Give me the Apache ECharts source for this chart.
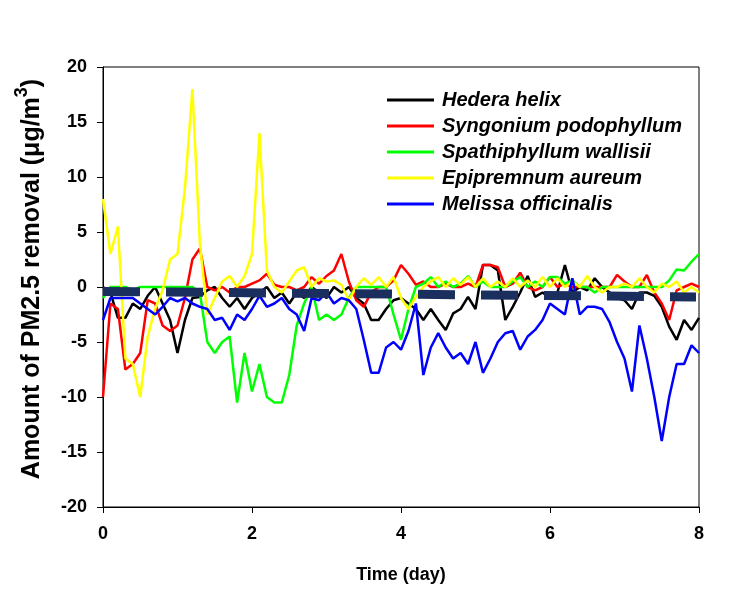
<!DOCTYPE html>
<html>
<head>
<meta charset="utf-8">
<script src="https://cdn.jsdelivr.net/npm/echarts@6/dist/echarts.min.js"></script>
<style>
html,body{margin:0;padding:0;background:#fff;}
#chart{width:736px;height:592px;}
</style>
</head>
<body>
<div id="chart"></div>
<script>
const days = [0,0.1,0.2,0.3,0.4,0.5,0.6,0.7,0.8,0.9,1,1.1,1.2,1.3,1.4,1.5,1.6,1.7,1.8,1.9,2,2.1,2.2,2.3,2.4,2.5,2.6,2.7,2.8,2.9,3,3.1,3.2,3.3,3.4,3.5,3.6,3.7,3.8,3.9,4,4.1,4.2,4.3,4.4,4.5,4.6,4.7,4.8,4.9,5,5.1,5.2,5.3,5.4,5.5,5.6,5.7,5.8,5.9,6,6.1,6.2,6.3,6.4,6.5,6.6,6.7,6.8,6.9,7,7.1,7.2,7.3,7.4,7.5,7.6,7.7,7.8,7.9,8];

const seriesNames = ['Hedera helix','Syngonium podophyllum','Spathiphyllum wallisii','Epipremnum aureum','Melissa officinalis'];
const seriesColors = ['#000000','#ff0000','#00ff00','#ffff00','#0000ff'];

const hedera = [0,-0.5,-2.8,-2.8,-1.5,-2,-0.8,0,-1.5,-3,-6,-3,-1,-0.9,-0.3,0,-1,-1.8,-1,-2,-1,-0.5,0,-1,-0.5,-1.5,-0.5,-1,0,-0.5,-1,0,-0.5,0,-1,-1.5,-3,-3,-2,-1.2,-1,-1.5,-2,-3,-2,-3,-3.9,-2.4,-2,-0.9,-2,2,2,1.5,-3,-1.8,-0.5,1,-0.9,-0.5,-1,-0.5,2,-0.5,0,-0.3,0.8,0,-0.5,-1,-1.2,-2,-0.5,-0.5,-0.8,-1.8,-3.6,-4.8,-3,-3.9,-2.8];

const syngonium = [-10,-1.5,-2,-7.5,-7,-6,-1.2,-1.5,-3.5,-4,-3.5,-1,2.5,3.5,0,-0.3,0,-0.5,0,0,0.3,0.6,1.2,0.2,0,0,-0.3,0,0.9,0.3,1,1.5,3,0.5,-1.2,-1.8,-0.5,0,0,0.6,2,1.2,0.2,0.5,0,0,0.3,0,0,0.3,0,2,2,1.8,0,0.3,1.3,0,-0.3,0,0.9,0,0.3,0,0,0,0,0,0,1.1,0.5,0,0,1.1,-0.5,-1.5,-3,-0.3,0,0.3,0];

const spathiphyllum = [-1,0,0,0,-0.3,0,0,0,0,0,0,0,0,-0.5,-5,-6,-5,-4.5,-10.5,-6,-9.5,-7,-10,-10.5,-10.5,-8,-3.5,-1.5,0,-3,-2.5,-3,-2.5,-1,0,0,0,0,0,-2.5,-4.8,-2,0,0.3,0.9,0,0.5,0,0.3,1,0,0.5,0,0,0,0.5,0.9,0,0.5,0,0.9,0.9,0.3,0.6,0,0,-0.5,0,0,0,0,0,0,0,0,0,0.6,1.6,1.5,2.3,3];

const epipremnum = [8,3,5.5,-6.5,-7,-10,-4.5,-2,-0.3,2.5,3,9,18,4,-2.5,-1,0.5,1,0,1,3,14,1.5,0,-0.5,0.5,1.5,1.8,0,0.8,0.5,0.6,0.2,-1.2,0,0.8,0.2,0.9,0,0.9,-1,-2,-0.9,0,0.5,0.9,0,0.8,0.2,0.9,0,0.8,0,0.5,0,0.8,0,0.6,0,0.9,0,0.8,0,0.5,0,1,0,-0.5,0,0,0.3,0,0.8,0,-0.5,0.3,0,0.5,-0.5,0,-0.5];

const melissa = [-3,-1,-1,-1,-1,-1.5,-2,-2.5,-1.8,-1,-1.3,-1,-1.5,-1.8,-2,-3,-2.8,-3.9,-2.5,-3,-2,-0.8,-1.8,-1.5,-1,-2,-2.5,-4,-1,-1.2,-0.5,-1.5,-1,-1.2,-2,-4.8,-7.8,-7.8,-5.5,-5,-5.7,-4,-1.5,-8,-5.5,-4.2,-5.5,-6.5,-6,-7,-5,-7.8,-6.5,-5,-4.2,-4,-5.7,-4.5,-3.9,-3,-1.5,-2,-2.5,0.8,-2.5,-1.8,-1.8,-2,-3.2,-5,-6.5,-9.5,-3.5,-6.5,-10,-14,-10,-7,-7,-5.3,-6];

const allValues = [hedera, syngonium, spathiphyllum, epipremnum, melissa];

// thick dark dashed reference line
const refDays = [0, 7.96];
const refValues = [-0.4, -0.9];

const xMin = 0, xMax = 8, xInterval = 2;
const yMin = -20, yMax = 20, yInterval = 5;

const FONT = 'Liberation Sans, Arial, sans-serif';

const chart = echarts.init(document.getElementById('chart'), null, {renderer: 'canvas'});

const series = allValues.map((vals, k) => ({
  name: seriesNames[k],
  type: 'line',
  data: days.map((d, i) => [d, vals[i]]),
  showSymbol: false,
  symbol: 'none',
  lineStyle: {color: seriesColors[k], width: 2.5},
  itemStyle: {color: seriesColors[k]},
  animation: false,
  z: 2
}));

series.push({
  name: 'ref',
  type: 'line',
  data: refDays.map((d, i) => [d, refValues[i]]),
  showSymbol: false,
  symbol: 'none',
  lineStyle: {color: '#1b2f5f', width: 9, type: [37, 26], cap: 'butt'},
  animation: false,
  z: 3
});

const option = {
  backgroundColor: '#ffffff',
  animation: false,
  grid: {left: 103, right: 37, top: 67, bottom: 85, show: true, borderColor: '#000', borderWidth: 1, backgroundColor: 'transparent'},
  legend: {
    data: seriesNames,
    orient: 'vertical',
    left: 382,
    top: 84,
    itemWidth: 47,
    itemHeight: 3,
    itemGap: 4,
    icon: 'rect',
    textStyle: {fontFamily: FONT, fontSize: 20, fontWeight: 'bold', fontStyle: 'italic', color: '#000', lineHeight: 22, padding: [0, 0, 0, 3]}
  },
  xAxis: {
    type: 'value',
    min: xMin, max: xMax, interval: xInterval,
    name: 'Time (day)',
    nameLocation: 'middle',
    nameGap: 59,
    nameTextStyle: {fontFamily: FONT, fontSize: 18, fontWeight: 'bold', color: '#000'},
    axisLine: {show: true, onZero: false, lineStyle: {color: '#000', width: 1}},
    axisTick: {show: true, inside: false, length: 6, lineStyle: {color: '#000'}},
    axisLabel: {fontFamily: FONT, fontSize: 18, fontWeight: 'bold', color: '#000', margin: 18},
    splitLine: {show: false}
  },
  yAxis: {
    type: 'value',
    min: yMin, max: yMax, interval: yInterval,
    name: '{a|Amount of PM2.5 removal (μg/m}{s|3}{a|)}',
    nameLocation: 'middle',
    nameGap: 58,
    nameTextStyle: {
      fontFamily: FONT, fontSize: 25, fontWeight: 'bold', color: '#000',
      padding: [0, 0, 0, 16],
      rich: {
        a: {fontFamily: FONT, fontSize: 25, fontWeight: 'bold', color: '#000', lineHeight: 32, verticalAlign: 'bottom'},
        s: {fontFamily: FONT, fontSize: 18, fontWeight: 'bold', color: '#000', lineHeight: 18, verticalAlign: 'top'}
      }
    },
    axisLine: {show: true, onZero: false, lineStyle: {color: '#000', width: 1}},
    axisTick: {show: true, inside: false, length: 6, lineStyle: {color: '#000'}},
    axisLabel: {fontFamily: FONT, fontSize: 18, fontWeight: 'bold', color: '#000', margin: 16},
    splitLine: {show: false}
  },
  series: series
};

chart.setOption(option);
</script>
</body>
</html>
